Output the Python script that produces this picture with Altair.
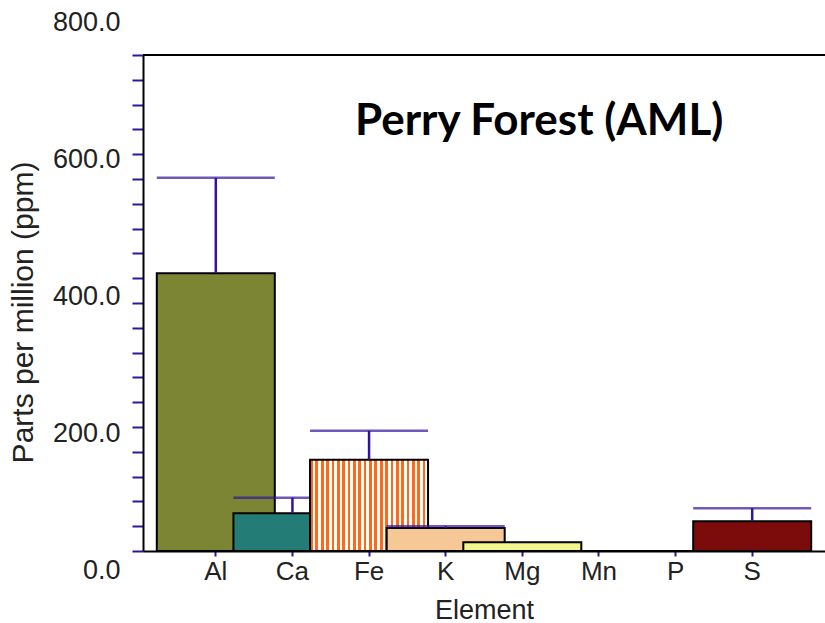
import altair as alt
import pandas as pd

# ---- data ----
elements = ["Al", "Ca", "Fe", "K", "Mg", "Mn", "P", "S"]
ppm = [448, 61, 147, 37, 14, 0, 0, 48]
upper = [602, 86, 194, 40, None, None, None, 69]
y_tick_values = list(range(0, 801, 40))

df = pd.DataFrame({"Element": elements, "ppm": ppm, "upper": upper})

# ---- style ----
ERR = "#33139e"
TXT = "#222222"
FONT = "Liberation Sans"


def stripes(base, n=22, frac=0.52):
    stops = []
    for i in range(n):
        a = i / n
        b = (i + frac) / n
        c = (i + 1) / n
        stops += [
            alt.GradientStop(color=base, offset=a),
            alt.GradientStop(color=base, offset=b),
            alt.GradientStop(color="#ffffff", offset=b),
            alt.GradientStop(color="#ffffff", offset=c),
        ]
    return alt.LinearGradient(gradient="linear", stops=stops, x1=0, x2=1, y1=0, y2=0)


fills = {
    "Al": "#7b8533",
    "Ca": "#247c76",
    "Fe": stripes("#ff6a1a"),
    "K": "#f6c896",
    "Mg": "#f4f68e",
    "Mn": "#cccccc",
    "P": "#cccccc",
    "S": "#7c0c0c",
}

x_axis = alt.Axis(
    labelAngle=0, labelFont=FONT, labelFontSize=26, labelColor=TXT,
    labelBaseline="alphabetic", labelPadding=23,
    tickSize=5, tickColor=ERR, tickWidth=2,
    domainColor="black", domainWidth=2,
    title="Element", titleFont=FONT, titleFontSize=27, titleFontWeight="normal",
    titleColor=TXT, titleBaseline="alphabetic", titleY=67,
)

y_axis = alt.Axis(
    values=y_tick_values,
    labelExpr="datum.value % 200 == 0 ? format(datum.value, '.1f') : ''",
    labelOffset={
        "condition": [
            {"test": "datum.value == 0", "value": 19},
            {"test": "datum.value == 200", "value": 6},
            {"test": "datum.value == 400", "value": -7},
            {"test": "datum.value == 600", "value": -20},
        ],
        "value": -33,
    },
    labelFont=FONT, labelFontSize=27, labelColor=TXT, labelPadding=12,
    labelOverlap=False, labelFlush=False,
    tickSize=11, tickColor=ERR, tickWidth=2,
    domainColor="black", domainWidth=2, grid=False,
    title="Parts per million (ppm)", titleFont=FONT, titleFontSize=30,
    titleFontWeight="normal", titleColor=TXT,
    titleAngle=-90, titleBaseline="bottom", titleAlign="center",
    titleX=-105, titleY=257,
)

x_scale = alt.Scale(type="band", paddingInner=0, paddingOuter=0.45)
y_scale = alt.Scale(domain=[0, 800], nice=False, zero=True)


def X():
    return alt.X("Element:N", sort=elements, scale=x_scale, axis=x_axis)


def Y(field):
    return alt.Y(f"{field}:Q", scale=y_scale, axis=y_axis)


base = alt.Chart(df)
layers = []
for i, el in enumerate(elements):
    sub = base.transform_filter(alt.datum.Element == el)
    layers.append(
        sub.mark_bar(width=118, fill=fills[el], stroke="black", strokeWidth=2)
        .encode(x=X(), y=Y("ppm"))
    )
    if upper[i] is not None:
        layers.append(
            sub.mark_rule(color=ERR, strokeWidth=2.5).encode(
                x=X(), y=Y("ppm"), y2="upper:Q"
            )
        )
        layers.append(
            sub.mark_tick(color=ERR, size=118, thickness=2.5).encode(
                x=X(), y=Y("upper")
            )
        )

top_line = alt.Chart(df).mark_rule(color="black", strokeWidth=2).encode(
    y=alt.value(0)
)
layers.append(top_line)

chart = (
    alt.layer(*layers)
    .properties(
        width=682,
        height=496,
        autosize=alt.AutoSizeParams(type="none"),
        padding={"left": 143, "top": 55, "right": 0, "bottom": 72},
        title=alt.TitleParams(
            "Perry Forest (AML)", font="Lato", fontSize=44, fontWeight="bold",
            color="black", anchor="start", frame="group", orient="top",
            baseline="alphabetic", offset=0, dx=212, dy=171,
        ),
    )
    .configure_view(stroke=None)
    .configure(background="white")
)

chart.save("out.html", embed_options={"renderer": "svg", "actions": False})
